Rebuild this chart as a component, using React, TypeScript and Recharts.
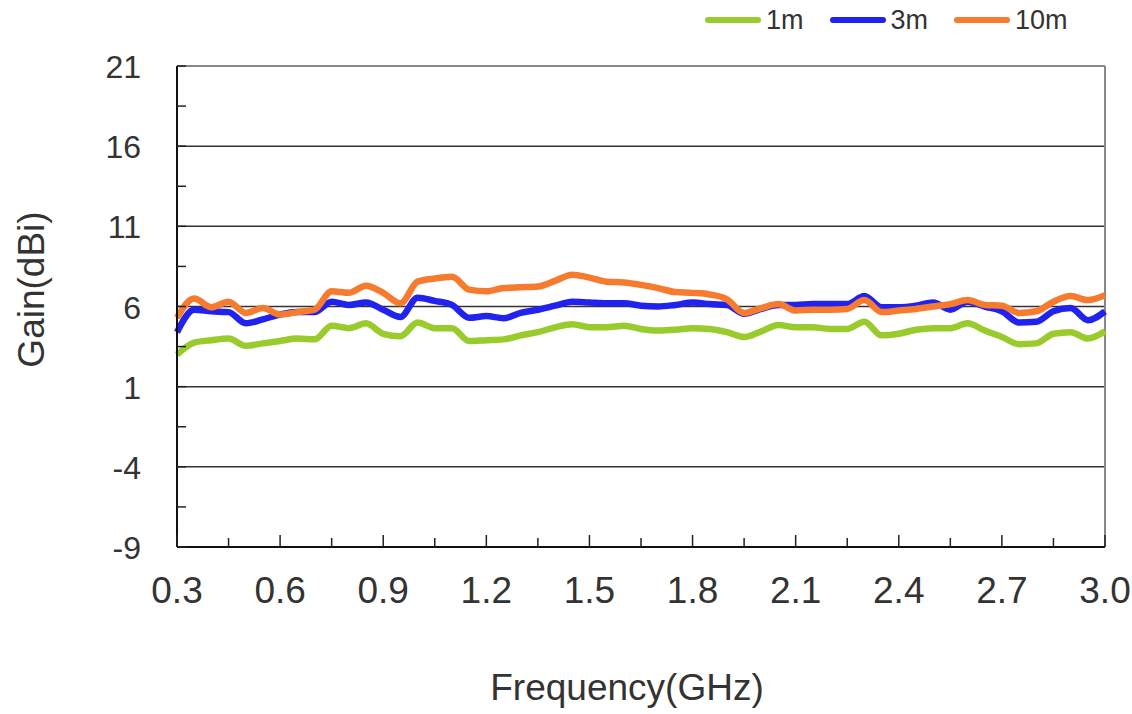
import React from 'react';
import { Legend, Line, LineChart, ReferenceLine, XAxis, YAxis } from 'recharts';

const FREQ = [
  0.3, 0.35, 0.4, 0.45, 0.5, 0.55, 0.6, 0.65, 0.7, 0.75, 0.8, 0.85, 0.9, 0.95, 1.0, 1.05, 1.1, 1.15, 1.2,
  1.25, 1.3, 1.35, 1.4, 1.45, 1.5, 1.55, 1.6, 1.65, 1.7, 1.75, 1.8, 1.85, 1.9, 1.95, 2.0, 2.05, 2.1, 2.15,
  2.2, 2.25, 2.3, 2.35, 2.4, 2.45, 2.5, 2.55, 2.6, 2.65, 2.7, 2.75, 2.8, 2.85, 2.9, 2.95, 3.0,
];

const GAIN_1M = [
  3.0, 3.75, 3.9, 4.0, 3.55, 3.7, 3.85, 4.0, 3.95, 4.8, 4.65, 4.95, 4.3, 4.15, 5.0, 4.65, 4.65, 3.85, 3.9,
  3.95, 4.2, 4.4, 4.7, 4.9, 4.7, 4.7, 4.8, 4.6, 4.5, 4.55, 4.65, 4.6, 4.4, 4.1, 4.45, 4.85, 4.7, 4.7,
  4.6, 4.6, 5.05, 4.2, 4.3, 4.55, 4.65, 4.65, 4.95, 4.5, 4.1, 3.65, 3.7, 4.3, 4.4, 4.0, 4.45,
];

const GAIN_3M = [
  4.4, 5.8, 5.7, 5.65, 4.95, 5.2, 5.5, 5.65, 5.65, 6.3, 6.1, 6.25, 5.8, 5.35, 6.55, 6.35, 6.1, 5.3, 5.4,
  5.27, 5.6, 5.8, 6.05, 6.3, 6.25, 6.2, 6.2, 6.05, 6.0, 6.1, 6.25, 6.15, 6.1, 5.55, 5.85, 6.1, 6.1, 6.15,
  6.15, 6.15, 6.65, 5.95, 5.95, 6.05, 6.25, 5.8, 6.3, 6.0, 5.7, 5.0, 5.05, 5.7, 5.9, 5.15, 5.7,
];

const GAIN_10M = [
  5.3, 6.5, 5.95, 6.3, 5.6, 5.9, 5.5, 5.65, 5.8, 6.95, 6.85, 7.3, 6.85, 6.2, 7.55, 7.75, 7.85, 7.05, 6.95,
  7.15, 7.2, 7.25, 7.6, 7.98, 7.8, 7.55, 7.5, 7.35, 7.15, 6.9, 6.85, 6.75, 6.45, 5.6, 5.9, 6.15, 5.75, 5.8,
  5.8, 5.85, 6.4, 5.65, 5.75, 5.85, 6.0, 6.15, 6.4, 6.1, 6.05, 5.6, 5.7, 6.3, 6.65, 6.4, 6.7,
];

const X_TICKS = [0.3, 0.45, 0.6, 0.75, 0.9, 1.05, 1.2, 1.35, 1.5, 1.65, 1.8, 1.95, 2.1, 2.25, 2.4, 2.55, 2.7, 2.85, 3.0];
const X_LABELS = [0.3, 0.6, 0.9, 1.2, 1.5, 1.8, 2.1, 2.4, 2.7, 3.0];
const Y_TICKS = [-9, -6.5, -4, -1.5, 1, 3.5, 6, 8.5, 11, 13.5, 16, 18.5, 21];
const Y_LABELS = [-9, -4, 1, 6, 11, 16, 21];
const GRID_LINES = [-4, 1, 6, 11, 16];

const SERIES = [
  { key: 'm1', name: '1m', color: '#9ACB2C', values: GAIN_1M },
  { key: 'm3', name: '3m', color: '#2222EE', values: GAIN_3M },
  { key: 'm10', name: '10m', color: '#F67B2F', values: GAIN_10M },
];

const FONT = '"Liberation Sans", Arial, sans-serif';
const TEXT = '#333';

const data = FREQ.map((f, i) => ({
  f,
  m1: GAIN_1M[i],
  m3: GAIN_3M[i],
  m10: GAIN_10M[i],
}));

const isLabel = (list: number[], v: number) => list.some((l) => Math.abs(l - v) < 1e-6);

function XTick({ x, y, payload }: any) {
  const major = isLabel(X_LABELS, payload.value);
  return (
    <g>
      <line x1={x} x2={x} y1={y} y2={y - (major ? 12 : 9)} stroke="#222" strokeWidth={1.5} />
      {major && (
        <text x={x} y={y + 56} textAnchor="middle" fontSize={37} fontFamily={FONT} fill={TEXT}>
          {payload.value.toFixed(1)}
        </text>
      )}
    </g>
  );
}

function YTick({ x, y, payload }: any) {
  const major = isLabel(Y_LABELS, payload.value);
  return (
    <g>
      <line x1={x} x2={x + 9} y1={y} y2={y} stroke="#222" strokeWidth={1.5} />
      {major && (
        <text x={x - 36} y={y + 12} textAnchor="end" fontSize={32} fontFamily={FONT} fill={TEXT}>
          {payload.value}
        </text>
      )}
    </g>
  );
}

function XTitle({ viewBox }: any) {
  const cx = viewBox.x + viewBox.width / 2 - 14;
  return (
    <text x={cx} y={700} textAnchor="middle" fontSize={37} fontFamily={FONT} fill={TEXT}>
      Frequency(GHz)
    </text>
  );
}

function YTitle({ viewBox }: any) {
  const cy = viewBox.y + viewBox.height / 2 - 17;
  return (
    <text
      x={44}
      y={cy}
      transform={`rotate(-90 44 ${cy})`}
      textAnchor="middle"
      fontSize={37}
      fontFamily={FONT}
      fill={TEXT}
    >
      Gain(dBi)
    </text>
  );
}

function LegendBox() {
  return (
    <div
      style={{
        display: 'flex',
        alignItems: 'center',
        paddingLeft: 705,
        height: 40,
        fontFamily: FONT,
        fontSize: 27,
        color: TEXT,
      }}
    >
      {SERIES.map((s) => (
        <div key={s.key} style={{ display: 'flex', alignItems: 'center', marginRight: 26 }}>
          <span style={{ width: 56, height: 6, borderRadius: 3, background: s.color, marginRight: 5 }} />
          <span>{s.name}</span>
        </div>
      ))}
    </div>
  );
}

export default function App() {
  return (
    <div style={{ position: 'absolute', left: 0, top: 0, width: 1132, height: 714, background: '#fff' }}>
      <LineChart width={1132} height={714} data={data} margin={{ top: 66, right: 27, bottom: 127, left: 117 }}>
        <XAxis
          dataKey="f"
          type="number"
          domain={[0.3, 3.0]}
          ticks={X_TICKS}
          interval={0}
          height={40}
          tickSize={0}
          tickMargin={0}
          tick={<XTick />}
          axisLine={{ stroke: '#111', strokeWidth: 2 }}
          label={<XTitle />}
        />
        <YAxis
          type="number"
          domain={[-9, 21]}
          ticks={Y_TICKS}
          interval={0}
          width={60}
          tickSize={0}
          tickMargin={0}
          tick={<YTick />}
          axisLine={{ stroke: '#111', strokeWidth: 2 }}
          label={<YTitle />}
        />
        {GRID_LINES.map((v) => (
          <ReferenceLine key={v} y={v} stroke="#333" strokeWidth={1.5} />
        ))}
        <ReferenceLine y={21} stroke="#888" strokeWidth={2} />
        <ReferenceLine x={3.0} stroke="#888" strokeWidth={2} />
        <Legend
          layout="vertical"
          align="center"
          verticalAlign="middle"
          wrapperStyle={{ top: 0, left: 0, width: 1132 }}
          content={() => <LegendBox />}
        />
        {SERIES.map((s) => (
          <Line
            key={s.key}
            dataKey={s.key}
            name={s.name}
            type="monotone"
            stroke={s.color}
            strokeWidth={6.5}
            dot={false}
            isAnimationActive={false}
          />
        ))}
      </LineChart>
    </div>
  );
}
